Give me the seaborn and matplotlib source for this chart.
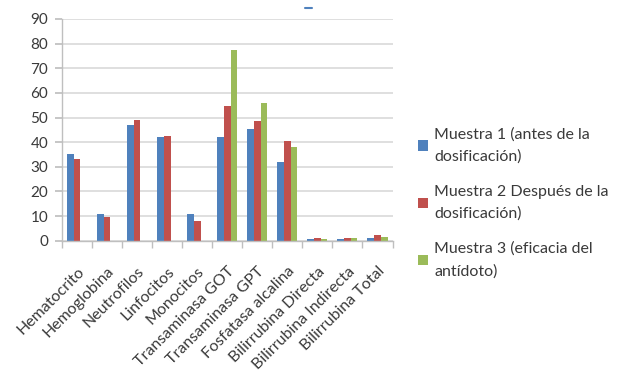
import matplotlib
matplotlib.use("Agg")
import matplotlib.pyplot as plt
from matplotlib.lines import Line2D
import numpy as np
import pandas as pd
import seaborn as sns

# Laboratory parameters measured on each sample
categories = [
    "Hematocrito", "Hemoglobina", "Neutrofilos", "Linfocitos", "Monocitos",
    "Transaminasa GOT", "Transaminasa GPT", "Fosfatasa alcalina",
    "Bilirrubina Directa", "Bilirrubina Indirecta", "Bilirrubina Total",
]
muestra_1 = [35, 11, 47, 42, 10.7, 42.3, 45.3, 32.1, 0.5, 0.8, 1.0]
muestra_2 = [33, 9.8, 48.8, 42.7, 7.8, 54.5, 48.4, 40.5, 1.0, 1.0, 2.4]
muestra_3 = [0, 0, 0, 0, 0, 77.3, 56.0, 38.0, 0.5, 1.0, 1.5]

series_names = [
    "Muestra 1 (antes de la\ndosificación)",
    "Muestra 2 Después de la\ndosificación)",
    "Muestra 3 (eficacia del\nantídoto)",
]
colors = ["#4F81BD", "#C0504D", "#9BBB59"]
y_ticks = list(range(0, 91, 10))

df = pd.DataFrame({
    "parametro": categories * 3,
    "valor": muestra_1 + muestra_2 + muestra_3,
    "muestra": [s for s in series_names for _ in categories],
})

sns.set_theme(style="white")
plt.rcParams["font.family"] = ["Lato", "DejaVu Sans"]
text_color = "#3A3A3A"

fig = plt.figure(figsize=(6.17, 3.75), dpi=100)
ax = fig.add_axes([62 / 617, 1 - 240.7 / 375, (392.5 - 62) / 617, (240.7 - 19) / 375])

sns.barplot(
    data=df, x="parametro", y="valor", hue="muestra",
    order=categories, hue_order=series_names, palette=colors,
    width=0.67, saturation=1, errorbar=None, linewidth=0, ax=ax,
)

ax.set_xlim(-0.5, len(categories) - 0.5)
ax.set_ylim(0, 90)
ax.set_yticks(y_ticks)
ax.set_xlabel("")
ax.set_ylabel("")
ax.yaxis.grid(True, color="#D9D9D9", linewidth=1.2)
ax.set_axisbelow(True)

for side in ("top", "right"):
    ax.spines[side].set_visible(False)
for side in ("left", "bottom"):
    ax.spines[side].set_color("#BFBFBF")
    ax.spines[side].set_linewidth(1)

ax.tick_params(axis="y", left=True, length=5, color="#BFBFBF", labelsize=11,
               labelcolor=text_color, pad=5)
ax.tick_params(axis="x", which="major", length=0, labelsize=11.5,
               labelcolor=text_color, pad=17)
ax.set_xticks(np.arange(-0.5, len(categories), 1), minor=True)
ax.tick_params(axis="x", which="minor", bottom=True, length=5, color="#BFBFBF")
plt.setp(ax.get_xticklabels(), rotation=45, ha="right", rotation_mode="anchor")

handles, labels = ax.get_legend_handles_labels()
ax.legend_.remove()
leg = fig.legend(
    handles, labels, loc="upper left",
    bbox_to_anchor=(404 / 617, 1 - 113 / 375),
    frameon=False, fontsize=11.5, handlelength=0.6, handleheight=0.6,
    handletextpad=0.4, labelspacing=1.3, labelcolor=text_color,
)
for t in leg.get_texts():
    t.set_linespacing(1.7)

# short blue mark above the plot area
fig.add_artist(Line2D([305 / 617, 312 / 617], [1 - 8 / 375, 1 - 8 / 375],
                      color="#4F81BD", linewidth=1.5))

fig.savefig("out.png", dpi=100)
